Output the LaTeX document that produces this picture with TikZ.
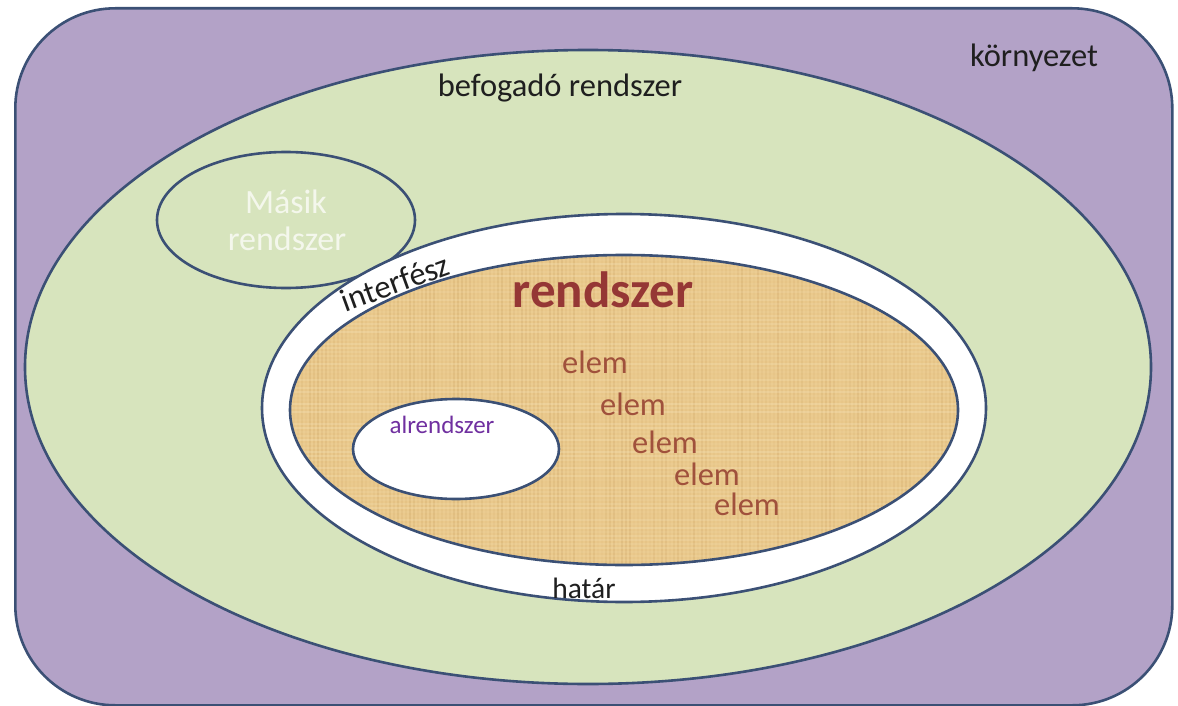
\documentclass[tikz,border=0pt]{standalone}
\usepackage{fontspec}
\setmainfont{Carlito}
\usetikzlibrary{shapes.geometric}
\definecolor{envfill}{HTML}{B3A2C7}
\definecolor{hostfill}{HTML}{D7E4BD}
\definecolor{rim}{HTML}{3B5075}
\definecolor{parch}{HTML}{EAC98C}
\definecolor{parchdark}{HTML}{C49A5A}
\definecolor{parchlight}{HTML}{F8E8C0}
\definecolor{sysred}{HTML}{953735}
\definecolor{elemred}{HTML}{A0513C}
\definecolor{subpurple}{HTML}{7030A0}
\definecolor{paletext}{HTML}{F4F7EC}
\begin{document}
\begin{tikzpicture}[x=1pt,y=-1pt,
  zone/.style={ellipse, draw=rim, line width=2.6pt, inner sep=0pt},
  lbl/.style={font=\fontsize{32.5}{32.5}\selectfont, text=black!88, inner sep=0pt, anchor=base},
  elemlbl/.style={font=\fontsize{32.5}{32.5}\selectfont, text=elemred, inner sep=0pt, anchor=base}]
\useasboundingbox (0,0) rectangle (1178,706);

% environment
\node[draw=rim, fill=envfill, line width=2.6pt, rounded corners=100pt,
      minimum width=1157pt, minimum height=697pt, inner sep=0pt,
      anchor=north west] (env) at (14,7) {};

% host system
\node[zone, fill=hostfill, minimum width=1126pt, minimum height=634pt] (host) at (588,367) {};

% other system
\node[zone, fill=hostfill, minimum width=258pt, minimum height=136pt] (other) at (286,220) {};

% boundary / interface ring
\node[zone, fill=white, minimum width=724pt, minimum height=388pt] (ring) at (624,408) {};

% the system itself, with a parchment texture
\node[ellipse, fill=parch, inner sep=0pt, minimum width=668pt, minimum height=310pt] (sys) at (624,410) {};
\begin{scope}
  \clip (sys.center) ellipse [x radius=334pt, y radius=155pt];
  \pgfmathsetseed{7}
  \foreach \k in {0,...,168} {
    \pgfmathsetmacro{\op}{0.04+0.22*rnd}
    \draw[parchdark, opacity=\op, line width=1.5pt] (290+4*\k,250) -- (290+4*\k,570);
  }
  \foreach \k in {0,...,80} {
    \pgfmathsetmacro{\op}{0.05+0.25*rnd}
    \draw[parchlight, opacity=\op, line width=1.5pt] (290,252+4*\k) -- (960,252+4*\k);
  }
\end{scope}
\draw[rim, line width=2.6pt] (sys.center) ellipse [x radius=334pt, y radius=155pt];

% subsystem
\node[zone, fill=white, minimum width=206pt, minimum height=100pt] (sub) at (456,449) {};

% labels
\node[lbl] (tenv) at (1034,67) {környezet};
\node[lbl] (thost) at (560,97) {befogadó rendszer};
\node[lbl, font=\fontsize{34}{34}\selectfont, text=paletext] (tother1) at (286,213) {Másik};
\node[lbl, font=\fontsize{34}{34}\selectfont, text=paletext] (tother2) at (287,250) {rendszer};
\node[lbl, rotate=20] (tif) at (399,293) {interfész};
\node[lbl, font=\fontsize{51}{51}\selectfont\bfseries, text=sysred] (tsys) at (603,307) {rendszer};
\node[elemlbl] (e1) at (595,373) {elem};
\node[elemlbl] (e2) at (633,415) {elem};
\node[elemlbl] (e3) at (665,453) {elem};
\node[elemlbl] (e4) at (707,485) {elem};
\node[elemlbl] (e5) at (747,515) {elem};
\node[lbl, font=\fontsize{25}{25}\selectfont, text=subpurple] (tsub) at (442,433) {alrendszer};
\node[lbl, font=\fontsize{29.5}{29.5}\selectfont] (tbound) at (584,598) {határ};
\end{tikzpicture}
\end{document}
